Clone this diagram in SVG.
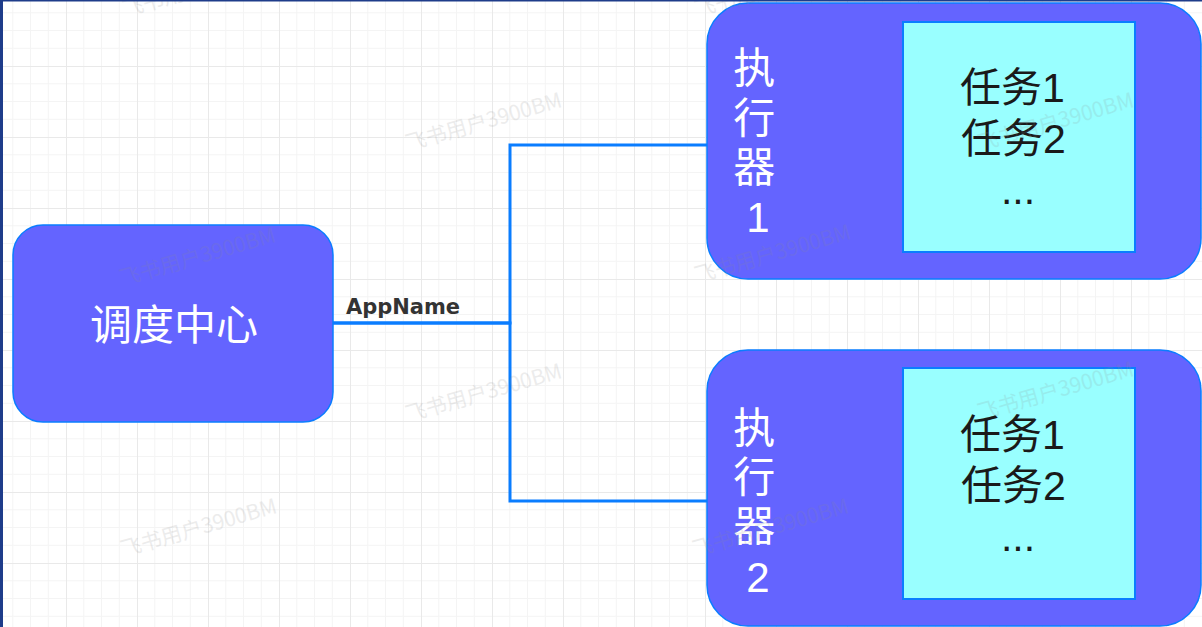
<svg xmlns="http://www.w3.org/2000/svg" width="1202" height="627" viewBox="0 0 1202 627">
  <style>
    .node { fill: #6464FF; stroke: #0A7DFF; stroke-width: 1.5; }
    .inner { fill: #99FFFF; stroke: #0A7DFF; stroke-width: 2; }
    .lbl { font-family: "Liberation Sans", "Noto Sans CJK SC", sans-serif; fill: #FFFFFF; font-size: 42px; text-anchor: middle; }
    .task { font-family: "Liberation Sans", "Noto Sans CJK SC", sans-serif; fill: #1A1A1A; font-size: 41px; text-anchor: middle; }
    .edge { fill: none; stroke: #0A7DFF; stroke-width: 3; }
    .elbl { font-family: "DejaVu Sans", sans-serif; font-weight: bold; font-size: 21px; fill: #333333; text-anchor: middle; }
    .wm { font-family: "Noto Sans CJK SC", "Liberation Sans", sans-serif; font-size: 21px; fill: #8C8C8C; opacity: 0.16; }
  </style>
  <defs>
    <pattern id="grid" x="-5" y="-5" width="71" height="71" patternUnits="userSpaceOnUse">
      <path d="M17.75 0V71M35.5 0V71M53.25 0V71M0 17.75H71M0 35.5H71M0 53.25H71" fill="none" stroke="#F4F4F4" stroke-width="1"/>
      <path d="M0.5 0V71M0 0.5H71" fill="none" stroke="#E9E9E9" stroke-width="1"/>
    </pattern>
  </defs>

  <rect x="0" y="0" width="1202" height="627" fill="#FFFFFF"/>
  <rect x="0" y="0" width="1202" height="627" fill="url(#grid)"/>

  <g id="connectors">
    <path class="edge" d="M313 323H510V145H707"/>
    <path class="edge" d="M313 323H510V501H707"/>
    <text class="elbl" x="403" y="314">AppName</text>
  </g>

  <g id="scheduler">
    <rect class="node" x="13" y="225" width="320" height="197" rx="30" ry="30"/>
    <text class="lbl" x="174" y="340">调度中心</text>
  </g>

  <g id="executor1">
    <rect class="node" x="707" y="3" width="494" height="276" rx="41" ry="41"/>
    <text class="lbl" x="760">
      <tspan x="760" y="83">执</tspan>
      <tspan x="760" y="133">行</tspan>
      <tspan x="760" y="182">器</tspan>
      <tspan x="758" y="232">1</tspan>
    </text>
    <rect class="inner" x="903" y="22" width="232" height="230"/>
    <text class="task">
      <tspan x="1018" y="102">任务1</tspan>
      <tspan x="1019" y="153">任务2</tspan>
      <tspan x="1018" y="204">...</tspan>
    </text>
  </g>

  <g id="executor2">
    <rect class="node" x="707" y="350" width="494" height="276" rx="41" ry="41"/>
    <text class="lbl" x="760">
      <tspan x="760" y="443">执</tspan>
      <tspan x="760" y="492">行</tspan>
      <tspan x="760" y="541">器</tspan>
      <tspan x="758" y="592">2</tspan>
    </text>
    <rect class="inner" x="903" y="368" width="232" height="231"/>
    <text class="task">
      <tspan x="1018" y="449">任务1</tspan>
      <tspan x="1019" y="500">任务2</tspan>
      <tspan x="1018" y="551">...</tspan>
    </text>
  </g>

  <g id="watermarks">
    <text class="wm" transform="translate(125 17) rotate(-16)">飞书用户3900BM</text>
    <text class="wm" transform="translate(122 286) rotate(-16)">飞书用户3900BM</text>
    <text class="wm" transform="translate(123 557) rotate(-16)">飞书用户3900BM</text>
    <text class="wm" transform="translate(408 151) rotate(-16)">飞书用户3900BM</text>
    <text class="wm" transform="translate(408 422) rotate(-16)">飞书用户3900BM</text>
    <text class="wm" transform="translate(697 17) rotate(-16)">飞书用户3900BM</text>
    <text class="wm" transform="translate(697 283) rotate(-16)">飞书用户3900BM</text>
    <text class="wm" transform="translate(695 557) rotate(-16)">飞书用户3900BM</text>
    <text class="wm" transform="translate(980 151) rotate(-16)">飞书用户3900BM</text>
    <text class="wm" transform="translate(980 420) rotate(-16)">飞书用户3900BM</text>
  </g>

  <rect x="0" y="0" width="3" height="627" fill="#1E3C8A"/>
  <rect x="0" y="0" width="1202" height="1.5" fill="#1E3C8A"/>
</svg>
